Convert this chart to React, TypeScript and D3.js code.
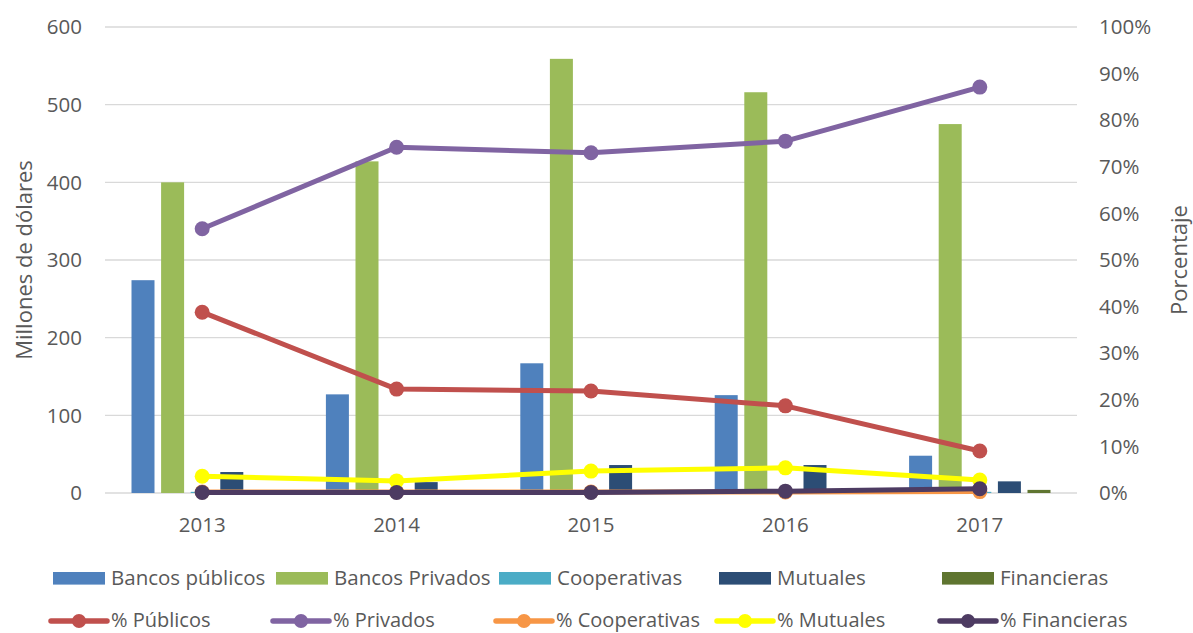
import React from "react";
import * as d3 from "d3";

const years = ["2013", "2014", "2015", "2016", "2017"];
const bancosPublicos = [274, 127, 167, 126, 48];
const bancosPrivados = [400, 427, 559, 516, 475];
const cooperativas = [1.5, 1, 1, 1, 1.5];
const mutuales = [27, 14, 36, 36, 15];
const financieras = [0.5, 0.5, 0.5, 1, 4];

const pctPublicos = [38.8, 22.3, 21.9, 18.7, 9.0];
const pctPrivados = [56.7, 74.2, 73.0, 75.5, 87.1];
const pctCooperativas = [0.2, 0.2, 0.2, 0.2, 0.3];
const pctMutuales = [3.6, 2.6, 4.7, 5.4, 2.8];
const pctFinancieras = [0.1, 0.1, 0.1, 0.4, 0.9];

const leftTicks = [0, 100, 200, 300, 400, 500, 600];
const rightTicks = [0, 10, 20, 30, 40, 50, 60, 70, 80, 90, 100];

const barSeries = [
  { name: "Bancos públicos", values: bancosPublicos, color: "#4F81BD" },
  { name: "Bancos Privados", values: bancosPrivados, color: "#9BBB59" },
  { name: "Cooperativas", values: cooperativas, color: "#4BACC6" },
  { name: "Mutuales", values: mutuales, color: "#2C4D75" },
  { name: "Financieras", values: financieras, color: "#5F7530" },
];

const lineSeries = [
  { name: "% Públicos", values: pctPublicos, color: "#C0504D" },
  { name: "% Privados", values: pctPrivados, color: "#8064A2" },
  { name: "% Cooperativas", values: pctCooperativas, color: "#F79646" },
  { name: "% Mutuales", values: pctMutuales, color: "#FFFF00" },
  { name: "% Financieras", values: pctFinancieras, color: "#4D3B62" },
];

const W = 1193;
const H = 633;
const left = 105;
const right = 1077;
const top = 27;
const bottom = 493;
const font = "'Open Sans', 'Liberation Sans', Arial, sans-serif";
const textColor = "#595959";

export default function App() {
  const x = d3.scaleBand<string>().domain(years).range([left, right]).paddingInner(0).paddingOuter(0);
  const y = d3.scaleLinear().domain([0, 600]).range([bottom, top]);
  const yp = d3.scaleLinear().domain([0, 100]).range([bottom, top]);
  const barW = 23;
  const barStep = 29.6;
  const inner = d3
    .scaleBand<number>()
    .domain(barSeries.map((_, i) => i))
    .range([0, barStep * 5]);
  const groupOffset = -(barStep * 5 - (barStep - barW)) / 2;
  const cx = (yr: string) => (x(yr) as number) + x.bandwidth() / 2;
  const line = d3
    .line<number>()
    .x((_, i) => cx(years[i]))
    .y((v) => yp(v));

  const legendRow1 = [53, 276, 499, 719, 942];
  const legendRow2 = [51, 273, 496, 717, 940];

  return (
    <svg width={W} height={H} style={{ position: "absolute", left: 0, top: 0, background: "#fff" }}>
      {leftTicks.map((t) => (
        <line key={"g" + t} x1={left} x2={right} y1={y(t)} y2={y(t)} stroke="#D9D9D9" strokeWidth={1.3} />
      ))}
      {leftTicks.map((t) => (
        <text key={"l" + t} x={82} y={y(t)} dy="0.35em" textAnchor="end" fontSize={20.5} fill={textColor} fontFamily={font}>
          {t}
        </text>
      ))}
      {rightTicks.map((t) => (
        <text key={"r" + t} x={1099} y={yp(t)} dy="0.35em" textAnchor="start" fontSize={20.5} fill={textColor} fontFamily={font}>
          {t}%
        </text>
      ))}
      {years.map((yr) => (
        <text key={"x" + yr} x={cx(yr)} y={525} dy="0.35em" textAnchor="middle" fontSize={20.5} fill={textColor} fontFamily={font}>
          {yr}
        </text>
      ))}
      <text
        transform={`translate(32,${(top + bottom) / 2}) rotate(-90)`}
        textAnchor="middle"
        fontSize={22}
        fill={textColor}
        fontFamily={font}
      >
        Millones de dólares
      </text>
      <text
        transform={`translate(1187,${(top + bottom) / 2}) rotate(-90)`}
        textAnchor="middle"
        fontSize={22}
        fill={textColor}
        fontFamily={font}
      >
        Porcentaje
      </text>

      {barSeries.map((s, si) =>
        s.values.map((v, i) => (
          <rect
            key={s.name + i}
            x={cx(years[i]) + groupOffset + (inner(si) as number)}
            y={y(v)}
            width={barW}
            height={bottom - y(v)}
            fill={s.color}
          />
        ))
      )}

      {lineSeries.map((s) => (
        <g key={s.name}>
          <path d={line(s.values) || ""} fill="none" stroke={s.color} strokeWidth={5} strokeLinejoin="round" strokeLinecap="round" />
          {s.values.map((v, i) => (
            <circle key={i} cx={cx(years[i])} cy={yp(v)} r={7.5} fill={s.color} />
          ))}
        </g>
      ))}

      {barSeries.map((s, i) => (
        <g key={"lb" + s.name}>
          <rect x={legendRow1[i]} y={572} width={52} height={12.6} fill={s.color} />
          <text x={legendRow1[i] + 58} y={578} dy="0.35em" fontSize={20.5} fill={textColor} fontFamily={font}>
            {s.name}
          </text>
        </g>
      ))}
      {lineSeries.map((s, i) => (
        <g key={"ll" + s.name}>
          <line x1={legendRow2[i]} x2={legendRow2[i] + 56} y1={621} y2={621} stroke={s.color} strokeWidth={5.5} strokeLinecap="round" />
          <circle cx={legendRow2[i] + 28} cy={621} r={7} fill={s.color} />
          <text x={legendRow2[i] + 60} y={620} dy="0.35em" fontSize={20} fill={textColor} fontFamily={font}>
            {s.name}
          </text>
        </g>
      ))}
    </svg>
  );
}
